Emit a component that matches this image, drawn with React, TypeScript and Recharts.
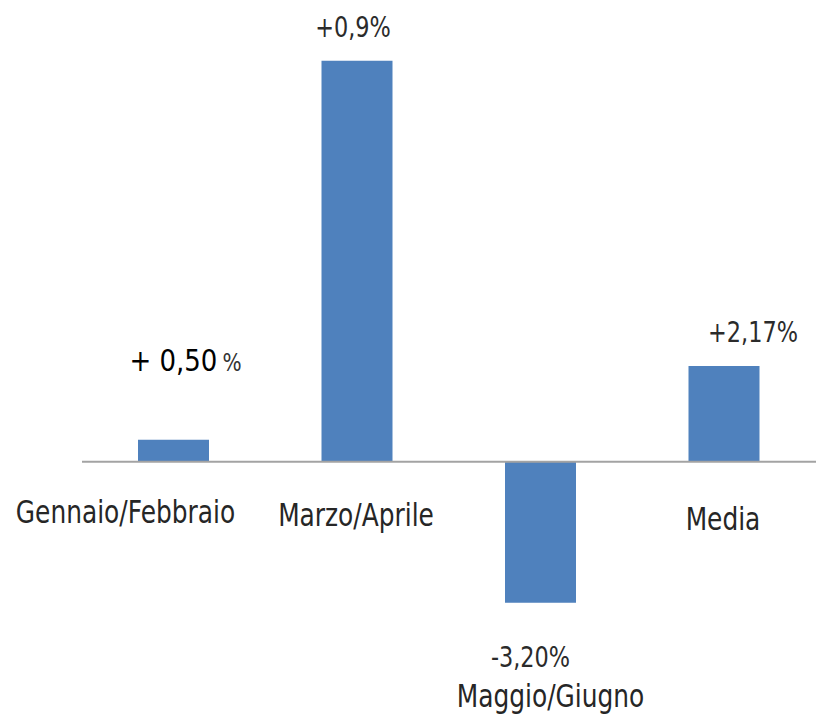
import { BarChart, Bar, XAxis, YAxis, ReferenceLine, LabelList } from "recharts";

const categories = ["Gennaio/Febbraio", "Marzo/Aprile", "Maggio/Giugno", "Media"];
const values = [0.5, 9.1, -3.2, 2.17];
const valueLabels = ["+ 0,50 %", "+0,9%", "-3,20%", "+2,17%"];

const data = categories.map((name, i) => ({
  name,
  value: values[i],
  label: valueLabels[i],
}));

// hand-placed text boxes in the original, so each label gets a nudge
const valueNudge = [
  { dx: 12, dy: -69 },
  { dx: -4, dy: -24 },
  { dx: -10, dy: 64 },
  { dx: 29, dy: -24 },
];
const catNudge = [
  { dx: -48, dy: 61 },
  { dx: -1, dy: 64 },
  { dx: 10, dy: 104 },
  { dx: -1, dy: 68 },
];

const FONT = "'DejaVu Sans', Verdana, sans-serif";

const box = (props: any) => {
  const vb = props.viewBox || {};
  const x = props.x ?? vb.x;
  const y = props.y ?? vb.y;
  const w = props.width ?? vb.width;
  const h = props.height ?? vb.height;
  return {
    cx: x + w / 2,
    top: Math.min(y, y + h),
    bottom: Math.max(y, y + h),
  };
};

const ValueLabel = (props: any) => {
  const { index } = props;
  const { cx, top, bottom } = box(props);
  const v = values[index];
  const text: string = valueLabels[index];
  const n = valueNudge[index];
  const px = cx + n.dx;
  const py = (v >= 0 ? top : bottom) + n.dy;
  if (text.endsWith(" %")) {
    const num = text.slice(0, -2);
    return (
      <text
        transform={`translate(${px},${py}) scale(0.84,1)`}
        textAnchor="middle"
        fontFamily={FONT}
      >
        <tspan fontSize={31} fill="#000">{num}</tspan>
        <tspan fontSize={24} fill="#333" dx={6}>%</tspan>
      </text>
    );
  }
  return (
    <text
      transform={`translate(${px},${py}) scale(0.8,1)`}
      textAnchor="middle"
      fontFamily={FONT}
      fontSize={28}
      fill="#2b2b2b"
    >
      {text}
    </text>
  );
};

const CategoryLabel = (props: any) => {
  const { index } = props;
  const { cx, bottom } = box(props);
  const n = catNudge[index];
  // positive bars: under the axis; negative bar: under the bar end
  const px = cx + n.dx;
  const py = bottom + n.dy;
  return (
    <text
      transform={`translate(${px},${py}) scale(0.79,1)`}
      textAnchor="middle"
      fontFamily={FONT}
      fontSize={31.5}
      fill="#262626"
    >
      {categories[index]}
    </text>
  );
};

export default function App() {
  return (
    <div style={{ position: "absolute", left: 0, top: 0, background: "#fff" }}>
      <BarChart
        width={819}
        height={720}
        data={data}
        margin={{ top: 21, right: 3, left: 82, bottom: 38 }}
      >
        <XAxis dataKey="name" hide />
        <YAxis hide domain={[-5, 10]} />
        <Bar dataKey="value" fill="#4F81BD" barSize={71} isAnimationActive={false}>
          <LabelList dataKey="label" content={<ValueLabel />} />
          <LabelList dataKey="name" content={<CategoryLabel />} />
        </Bar>
        <ReferenceLine y={0} stroke="#a3a3a3" strokeWidth={2} />
      </BarChart>
    </div>
  );
}
